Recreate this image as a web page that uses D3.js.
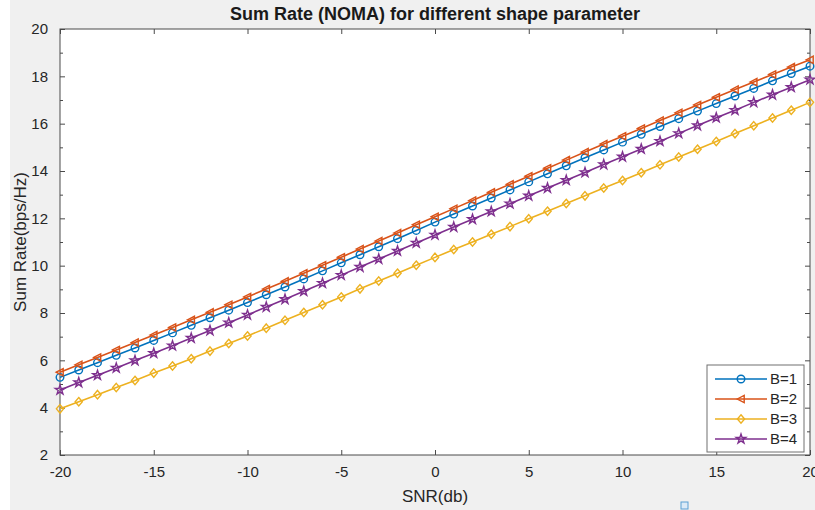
<!DOCTYPE html>
<meta charset="utf-8">
<head>
  <title>Sum Rate NOMA</title>
</head>
<style>
  body { margin: 0; background: #ffffff; }
  text { font-family: "Liberation Sans", Arial, sans-serif; }
</style>
<script src="https://d3js.org/d3.v7.min.js"></script>
<div id="my_dataviz"></div>
<script>
  // data (SNR step of 1 dB)
  var snr = d3.range(-20, 21, 1);
  var seriesNames = ["B=1", "B=2", "B=3", "B=4"];
  var b1 = [5.28, 5.59, 5.90, 6.21, 6.52, 6.84, 7.16, 7.48, 7.80, 8.12, 8.44, 8.77, 9.10, 9.44, 9.78, 10.12, 10.46, 10.80, 11.14, 11.49, 11.84, 12.18, 12.52, 12.86, 13.20, 13.54, 13.88, 14.22, 14.56, 14.89, 15.22, 15.55, 15.88, 16.21, 16.53, 16.85, 17.17, 17.49, 17.81, 18.12, 18.43];
  var b2 = [5.50, 5.81, 6.12, 6.44, 6.75, 7.07, 7.39, 7.71, 8.03, 8.35, 8.68, 9.01, 9.34, 9.68, 10.02, 10.36, 10.70, 11.04, 11.38, 11.73, 12.07, 12.41, 12.75, 13.10, 13.44, 13.78, 14.12, 14.46, 14.80, 15.14, 15.47, 15.80, 16.13, 16.46, 16.79, 17.12, 17.44, 17.76, 18.08, 18.39, 18.70];
  var b3 = [3.95, 4.25, 4.55, 4.85, 5.15, 5.46, 5.76, 6.07, 6.39, 6.71, 7.03, 7.36, 7.69, 8.02, 8.35, 8.68, 9.02, 9.35, 9.68, 10.02, 10.35, 10.68, 11.00, 11.33, 11.65, 11.98, 12.30, 12.63, 12.95, 13.28, 13.60, 13.93, 14.26, 14.59, 14.92, 15.25, 15.58, 15.91, 16.24, 16.57, 16.90];
  var b4 = [4.75, 5.06, 5.37, 5.68, 5.99, 6.30, 6.62, 6.94, 7.26, 7.59, 7.92, 8.25, 8.58, 8.92, 9.26, 9.60, 9.94, 10.28, 10.62, 10.96, 11.30, 11.63, 11.96, 12.29, 12.62, 12.95, 13.28, 13.61, 13.94, 14.27, 14.60, 14.93, 15.26, 15.59, 15.92, 16.25, 16.57, 16.90, 17.22, 17.54, 17.86];
  var xTicks = [-20, -15, -10, -5, 0, 5, 10, 15, 20];
  var yTicks = [2, 4, 6, 8, 10, 12, 14, 16, 18, 20];
  var yMinor = [3, 5, 7, 9, 11, 13, 15, 17, 19];

  var allSeries = [b1, b2, b3, b4];
  var colors = ["#0072BD", "#D95319", "#EDB120", "#7E2F8E"];
  var markers = ["circle", "left", "diamond", "star"];

  var W = 815, H = 510;
  var margin = { top: 29, right: 5, bottom: 55, left: 60 },
    width = W - margin.left - margin.right,
    height = H - margin.top - margin.bottom;

  var root = d3.select("#my_dataviz")
    .append("svg")
    .attr("width", W)
    .attr("height", H);

  // figure background
  root.append("rect")
    .attr("x", 10).attr("y", 0)
    .attr("width", W - 10).attr("height", H)
    .style("fill", "#f0f0f0");

  var svg = root.append("g")
    .attr("transform", "translate(" + margin.left + "," + margin.top + ")");

  var x = d3.scaleLinear().domain([-20, 20]).range([0, width]);
  var y = d3.scaleLinear().domain([2, 20]).range([height, 0]);

  svg.append("rect")
    .attr("width", width).attr("height", height)
    .style("fill", "#ffffff");

  // axes (box on, ticks inside)
  var axisColor = "#4a4a4a";
  var plain = function(d) { return String(d); };
  function styleAxis(g) {
    g.select(".domain").remove();
    g.selectAll("line").style("stroke", axisColor);
    g.selectAll("text").style("fill", "#262626").style("font-size", "15px");
  }
  svg.append("g")
    .attr("transform", "translate(0," + height + ")")
    .call(d3.axisBottom(x).tickValues(xTicks).tickFormat(plain).tickSizeInner(-5).tickSizeOuter(0).tickPadding(11))
    .call(styleAxis);
  svg.append("g")
    .call(d3.axisTop(x).tickValues(xTicks).tickSizeInner(-5).tickSizeOuter(0).tickFormat(""))
    .call(styleAxis);
  svg.append("g")
    .call(d3.axisLeft(y).tickValues(yTicks).tickFormat(plain).tickSizeInner(-5).tickSizeOuter(0).tickPadding(12))
    .call(styleAxis);
  svg.append("g")
    .attr("transform", "translate(" + width + ",0)")
    .call(d3.axisRight(y).tickValues(yTicks).tickSizeInner(-5).tickSizeOuter(0).tickFormat(""))
    .call(styleAxis);
  svg.append("g")
    .call(d3.axisLeft(y).tickValues(yMinor).tickSizeInner(-3).tickSizeOuter(0).tickFormat(""))
    .call(styleAxis);
  svg.append("g")
    .attr("transform", "translate(" + width + ",0)")
    .call(d3.axisRight(y).tickValues(yMinor).tickSizeInner(-3).tickSizeOuter(0).tickFormat(""))
    .call(styleAxis);

  svg.append("rect")
    .attr("width", width).attr("height", height)
    .style("fill", "none")
    .style("stroke", axisColor)
    .style("stroke-width", 1);

  // marker shapes
  function markerPath(kind) {
    if (kind === "circle") return d3.symbol().type(d3.symbolCircle).size(45)();
    if (kind === "diamond") return "M0,-4.2L3.6,0L0,4.2L-3.6,0Z";
    if (kind === "star") return d3.symbol().type(d3.symbolStar).size(28)();
    return "M-3.8,0L3.2,-3.6L3.2,3.6Z";
  }

  var line = d3.line()
    .x(function(d, i) { return x(snr[i]); })
    .y(function(d) { return y(d); });

  allSeries.forEach(function(vals, k) {
    svg.append("path")
      .datum(vals)
      .attr("d", line)
      .style("fill", "none")
      .style("stroke", colors[k])
      .style("stroke-width", 1.6);
    svg.append("g")
      .selectAll("path")
      .data(vals)
      .enter()
      .append("path")
      .attr("transform", function(d, i) {
        return "translate(" + x(snr[i]) + "," + y(d) + ")";
      })
      .attr("d", markerPath(markers[k]))
      .style("fill", "none")
      .style("stroke", colors[k])
      .style("stroke-width", 1.4);
  });

  // title and axis labels
  root.append("text")
    .attr("x", margin.left + width / 2)
    .attr("y", 20)
    .style("text-anchor", "middle")
    .style("font-weight", "bold")
    .style("font-size", "18px")
    .style("fill", "#1a1a1a")
    .text("Sum Rate (NOMA) for different shape parameter");

  root.append("text")
    .attr("x", margin.left + width / 2)
    .attr("y", 502)
    .style("text-anchor", "middle")
    .style("font-size", "17px")
    .style("fill", "#262626")
    .text("SNR(db)");

  root.append("text")
    .attr("transform", "rotate(-90)")
    .attr("x", -(margin.top + height / 2))
    .attr("y", 26)
    .style("text-anchor", "middle")
    .style("font-size", "17px")
    .style("fill", "#262626")
    .text("Sum Rate(bps/Hz)");

  // legend
  var leg = root.append("g").attr("transform", "translate(707,365)");
  leg.append("rect")
    .attr("width", 97).attr("height", 87)
    .style("fill", "#ffffff")
    .style("stroke", "#707070")
    .style("stroke-width", 1);
  seriesNames.forEach(function(name, k) {
    var ly = 14 + k * 20;
    leg.append("line")
      .attr("x1", 8).attr("x2", 60)
      .attr("y1", ly).attr("y2", ly)
      .style("stroke", colors[k])
      .style("stroke-width", 1.6);
    leg.append("path")
      .attr("transform", "translate(34," + ly + ")")
      .attr("d", markerPath(markers[k]))
      .style("fill", "none")
      .style("stroke", colors[k])
      .style("stroke-width", 1.4);
    leg.append("text")
      .attr("x", 63).attr("y", ly + 5)
      .style("font-size", "15px")
      .style("fill", "#262626")
      .text(name);
  });

  // small stray square below the axes
  root.append("rect")
    .attr("x", 681).attr("y", 502)
    .attr("width", 7).attr("height", 7)
    .style("fill", "#dbeaf7")
    .style("stroke", "#5a9fd4")
    .style("stroke-width", 1);
</script>
